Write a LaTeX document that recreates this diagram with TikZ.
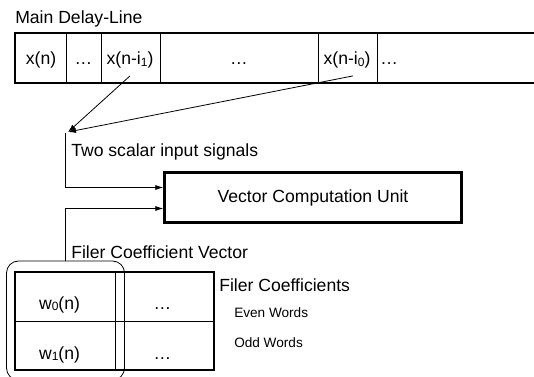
\documentclass[tikz,border=0pt]{standalone}
\usepackage{fontspec}
\setmainfont{Liberation Sans}
\usetikzlibrary{arrows.meta,calc}

\newcommand{\px}{0.75pt}
\newcommand{\idx}[1]{\raisebox{-0.8pt}{\fontsize{9}{9}\selectfont #1}}
\tikzset{
  frame/.style={line width=1.5pt},
  grid/.style={line width=0.6pt},
  txt/.style={inner sep=0pt, font=\fontsize{13.2}{15}\selectfont},
  small/.style={inner sep=0pt, font=\fontsize{10.2}{12}\selectfont},
  signal/.style={line width=0.6pt, -{Latex[length=6pt,width=3.8pt]}},
}

\begin{document}
\begin{tikzpicture}[x=\px, y=-\px]
  \useasboundingbox (0,0) rectangle (534,377);
  \clip (0,0) rectangle (534,377);

  % Main delay-line
  \node[txt, anchor=base west] (title) at (15,24) {Main Delay-Line};
  \foreach \x in {66,101,160,318,377}
    \draw[grid] (\x,33) -- (\x,83);
  \draw[frame] (15,33) rectangle (545,83);
  \node[txt, anchor=base] (xn) at (41,65) {x(n)};
  \node[txt, anchor=base] (dots1) at (83.5,65) {\dots};
  \node[txt, anchor=base] (xi1) at (130,65) {x(n-i\idx{1})};
  \node[txt, anchor=base] (dots2) at (239,65) {\dots};
  \node[txt, anchor=base] (xi0) at (347,65) {x(n-i\idx{0})};
  \node[txt, anchor=base west] (dots3) at (380,65) {\dots};

  % Taps
  \coordinate (join) at (68,132);
  \draw[signal] ($(xi1.south)+(0,7)$) -- (join);
  \draw[signal] ($(xi0.south)+(6,7)$) -- (join);

  % Vector computation unit
  \node[draw, line width=1.8pt, txt, minimum width=297*\px, minimum height=50*\px]
    (vcu) at (313,197.5) {Vector Computation Unit};
  \draw[signal] ($(join)+(-2.5,1.5)$) |- ($(vcu.west)+(0,-10)$);
  \node[txt, anchor=base west] (scalars) at (71,157) {Two scalar input signals};

  % Filter coefficient vector
  \node[draw, grid, rounded corners=12*\px, minimum width=118*\px, minimum height=119*\px]
    (vec) at (65.5,320.5) {};
  \draw[signal] (vec.north) |- ($(vcu.west)+(0,11)$);
  \node[txt, anchor=base west] (vectxt) at (71,258.5) {Filer Coefficient Vector};

  % Coefficient table
  \draw[grid] (15,321) -- (214,321) (115.5,272) -- (115.5,370);
  \draw[frame] (15,272) rectangle (214,370);
  \node[txt, anchor=base] (w0) at (59.5,309.5) {w\idx{0}(n)};
  \node[txt, anchor=base] (dots4) at (162.5,309.5) {\dots};
  \node[txt, anchor=base] (w1) at (59.5,359) {w\idx{1}(n)};
  \node[txt, anchor=base] (dots5) at (162.5,359) {\dots};

  \node[txt, anchor=base west] (coef) at (219,291.5) {Filer Coefficients};
  \node[small, anchor=base west] (even) at (234,317.5) {Even Words};
  \node[small, anchor=base west] (odd) at (234,347) {Odd Words};
\end{tikzpicture}
\end{document}
